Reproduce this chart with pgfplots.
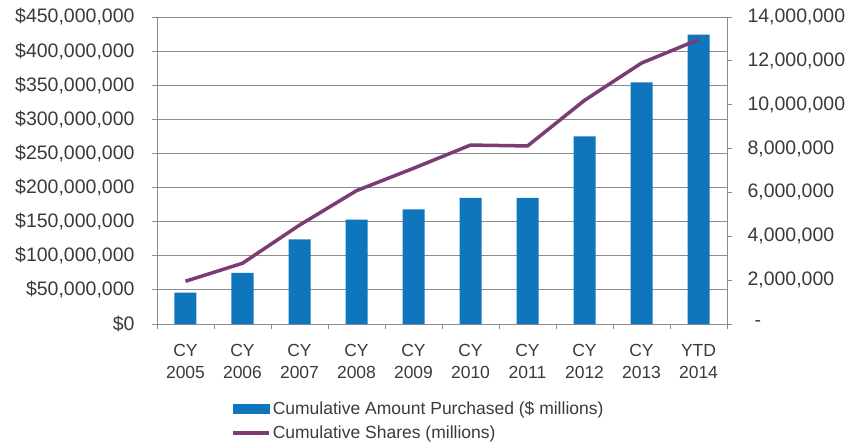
\documentclass[border=0pt]{standalone}
\usepackage{fontspec}
\setmainfont{Liberation Sans}
\usepackage{pgfplots}
\usepackage{pgfplotstable}
\pgfplotsset{compat=1.18}

\definecolor{barblue}{HTML}{0F75BC}
\definecolor{sharepurple}{HTML}{7B3B73}
\definecolor{axgray}{HTML}{8C8C8C}
\definecolor{txtgray}{HTML}{3A3A3A}

% amount in $ millions, shares in millions
\pgfplotstableread{
idx amount shares
0 46 1.95
1 75 2.77
2 124 4.51
3 153 6.08
4 168 7.10
5 185 8.16
6 185 8.12
7 275 10.20
8 354 11.90
9 424 12.97
}\datatable

\begin{document}
\begin{tikzpicture}
\path[use as bounding box] (-157bp,-124bp) rectangle (694bp,17bp+307bp);

\begin{axis}[
    scale only axis,
    width=570bp, height=307bp,
    xmin=-0.5, xmax=9.5,
    ymin=0, ymax=450,
    axis x line*=bottom, axis y line*=left,
    axis line style={axgray, line width=0.9bp},
    ybar, bar width=22bp,
    ytick={0,50,...,450},
    yticklabels={\$0,{\$50,000,000},{\$100,000,000},{\$150,000,000},{\$200,000,000},
        {\$250,000,000},{\$300,000,000},{\$350,000,000},{\$400,000,000},{\$450,000,000}},
    ymajorgrids, grid style={axgray, line width=0.9bp},
    tick align=outside, major tick length=5bp,
    tick style={axgray, line width=0.9bp},
    xtick={-0.5,0.5,...,9.5}, xticklabels={},
    extra x ticks={0,1,2,3,4,5,6,7,8,9},
    extra x tick labels={{CY\\2005},{CY\\2006},{CY\\2007},{CY\\2008},{CY\\2009},
        {CY\\2010},{CY\\2011},{CY\\2012},{CY\\2013},{YTD\\2014}},
    extra x tick style={major tick length=0pt, grid=none,
        xticklabel style={align=center, yshift=-17bp,
            font=\fontsize{17.5bp}{22bp}\selectfont, text=txtgray}},
    yticklabel style={xshift=-14bp, font=\fontsize{19.5bp}{22bp}\selectfont, text=txtgray},
]
\addplot[fill=barblue, draw=none] table[x=idx, y=amount] {\datatable};
\end{axis}

\begin{axis}[
    scale only axis,
    width=570bp, height=307bp,
    xmin=-0.5, xmax=9.5,
    ymin=0, ymax=14,
    axis x line=none, axis y line*=right,
    axis line style={axgray, line width=0.9bp},
    ytick={0,2,...,14},
    yticklabels={{\hspace{7bp}-},{2,000,000},{4,000,000},{6,000,000},{8,000,000},
        {10,000,000},{12,000,000},{14,000,000}},
    tick align=outside, major tick length=5bp,
    tick style={axgray, line width=0.9bp},
    yticklabel style={anchor=west, xshift=12bp,
        font=\fontsize{19.5bp}{22bp}\selectfont, text=txtgray},
    legend style={draw=none, fill=none, at={(axis description cs:0.13,-0.245)},
        anchor=north west, font=\fontsize{17.5bp}{21bp}\selectfont, text=txtgray,
        row sep=6bp, inner sep=0pt},
    legend cell align=left,
]
\addlegendimage{legend image code/.code={\fill[barblue] (0bp,-4.5bp) rectangle (36bp,4.5bp);}}
\addlegendentry{Cumulative Amount Purchased (\$ millions)}
\addlegendimage{legend image code/.code={\draw[sharepurple, line width=3.5bp] (0bp,0bp) -- (36bp,0bp);}}
\addlegendentry{Cumulative Shares (millions)}
\addplot[sharepurple, line width=3.5bp, forget plot] table[x=idx, y=shares] {\datatable};
\end{axis}
\end{tikzpicture}
\end{document}
